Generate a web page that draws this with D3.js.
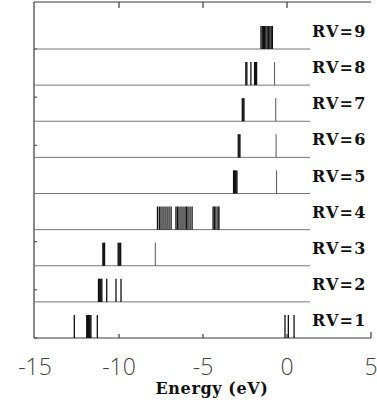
<!DOCTYPE html>
<html>
<head>
<meta charset="utf-8">
<script src="https://cdn.jsdelivr.net/npm/d3@7"></script>
<style>
  html, body { margin: 0; padding: 0; background: #fff; }
  svg { display: block; }
</style>
</head>
<body>
<script>
// ---------- data ----------
const rowLabels = ["RV=1","RV=2","RV=3","RV=4","RV=5","RV=6","RV=7","RV=8","RV=9"];
const rv1 = [-12.66, -11.92, -11.87, -11.82, -11.77, -11.72, -11.67, -11.29, -0.12, 0.08, 0.42];
const rv2 = [-11.22, -11.17, -11.12, -11.07, -11.02, -10.73, -10.18, -9.88];
const rv3 = [-10.96, -10.91, -10.86, -10.05, -10.0, -9.95, -9.9];
const rv4 = [-7.71, -7.6, -7.5, -7.38, -7.26, -7.14, -7.02, -6.9,
             -6.61, -6.52, -6.43, -6.31, -6.19, -6.07, -5.98, -5.89, -5.77, -5.65,
             -4.4, -4.32, -4.23, -4.11, -4.05];
const rv5 = [-3.18, -3.13, -3.08, -3.03, -2.98];
const rv6 = [-2.9, -2.85, -2.8];
const rv7 = [-2.66, -2.61, -2.56];
const rv8 = [-2.45, -2.39, -2.15, -1.93, -1.87, -1.81];
const rv9 = [-1.55, -1.47, -1.4, -1.33, -1.26, -1.18, -1.1, -1.02, -0.94, -0.87];
const rvLines = [rv1, rv2, rv3, rv4, rv5, rv6, rv7, rv8, rv9];
// faint (weak) lines per row
const rvFaint = [[], [], [-7.84], [], [-0.62], [-0.65], [-0.67], [-0.74], []];
const xTicks = [-15, -10, -5, 0, 5];
const xTickLabels = ["-15", "-10", "-5", "0", "5"];
const yTicks = [0, 4/3, 8/3, 4, 16/3, 20/3, 8];

// ---------- layout ----------
const W = 377, H = 412;
const svg = d3.select("body").append("svg").attr("width", W).attr("height", H);
svg.append("rect").attr("width", W).attr("height", H).attr("fill", "#fff");

const x = d3.scaleLinear().domain([-15, 5]).range([35, 371]);
const y = d3.scaleLinear().domain([0, 8]).range([338, 49]);
const fTop = 2, fLeft = 34, fRight = 371, fBottom = 338, baseEnd = 310;

// frame
const frame = svg.append("g").attr("stroke", "#3a3a3a").attr("stroke-width", 1.2).attr("fill", "none");
frame.append("line").attr("x1", fLeft).attr("x2", fRight).attr("y1", fTop).attr("y2", fTop);
frame.append("line").attr("x1", fLeft).attr("x2", fLeft).attr("y1", fTop).attr("y2", fBottom);
frame.append("line").attr("x1", fLeft).attr("x2", fRight).attr("y1", fBottom).attr("y2", fBottom);
frame.append("line").attr("x1", fRight).attr("x2", fRight).attr("y1", fBottom - 6).attr("y2", fBottom);

// top ticks (inward)
svg.append("g").selectAll("line").data(xTicks.slice(1, 4)).join("line")
  .attr("x1", d => x(d)).attr("x2", d => x(d)).attr("y1", fTop).attr("y2", fTop + 6)
  .attr("stroke", "#3a3a3a").attr("stroke-width", 1.2);
// bottom ticks (inward)
svg.append("g").selectAll("line").data(xTicks.slice(1, 4)).join("line")
  .attr("x1", d => x(d)).attr("x2", d => x(d)).attr("y1", fBottom).attr("y2", fBottom - 4)
  .attr("stroke", "#3a3a3a").attr("stroke-width", 1.2);
// left ticks
svg.append("g").selectAll("line").data(yTicks).join("line")
  .attr("x1", fLeft).attr("x2", fLeft + 3).attr("y1", d => y(d)).attr("y2", d => y(d))
  .attr("stroke", "#3a3a3a").attr("stroke-width", 1);

// row baselines
svg.append("g").selectAll("line").data(d3.range(1, 9)).join("line")
  .attr("x1", fLeft).attr("x2", baseEnd).attr("y1", d => y(d)).attr("y2", d => y(d))
  .attr("stroke", "#777").attr("stroke-width", 1);

// lines
const barH = 0.64;
rvLines.forEach((arr, i) => {
  svg.append("g").selectAll("line").data(arr).join("line")
    .attr("x1", d => x(d)).attr("x2", d => x(d))
    .attr("y1", y(i)).attr("y2", y(i + barH))
    .attr("stroke", "#111").attr("stroke-width", 1.3);
});
rvFaint.forEach((arr, i) => {
  svg.append("g").selectAll("line").data(arr).join("line")
    .attr("x1", d => x(d)).attr("x2", d => x(d))
    .attr("y1", y(i)).attr("y2", y(i + barH))
    .attr("stroke", "#555").attr("stroke-width", 1);
});

// row labels
svg.append("g").selectAll("text").data(rowLabels).join("text")
  .attr("x", 312).attr("y", (d, i) => y(i) - 12)
  .attr("font-family", "'DejaVu Serif', 'Liberation Serif', serif")
  .attr("font-weight", "bold").attr("font-size", 16).attr("letter-spacing", 1.2)
  .attr("fill", "#111").text(d => d);

// x tick labels
svg.append("g").selectAll("text").data(xTicks).join("text")
  .attr("x", d => x(d)).attr("y", 375).attr("text-anchor", "middle")
  .attr("font-family", "'Open Sans', 'DejaVu Sans', sans-serif")
  .attr("font-weight", 300).attr("font-size", 23).attr("fill", "#444")
  .text((d, i) => xTickLabels[i]);

// x axis title
svg.append("text").attr("x", 212).attr("y", 394).attr("text-anchor", "middle")
  .attr("font-family", "'DejaVu Serif', 'Liberation Serif', serif")
  .attr("font-weight", "bold").attr("font-size", 16).attr("letter-spacing", 0.6).attr("fill", "#111")
  .text("Energy (eV)");
</script>
</body>
</html>
